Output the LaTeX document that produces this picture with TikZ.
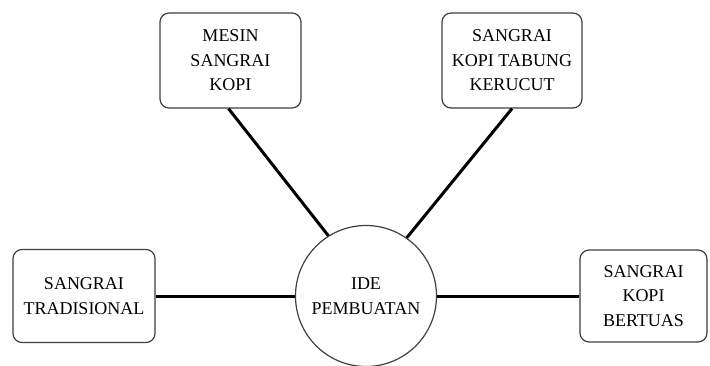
\documentclass[tikz,border=0pt]{standalone}
\usepackage{fontspec}
\setmainfont{Liberation Serif}
\usepackage{tikz}

\begin{document}
\begin{tikzpicture}[x=1pt,y=1pt,
  kotak/.style={draw=black!75,line width=1.2pt,rounded corners=9pt,fill=white,align=center,
    inner sep=0pt,font={\fontsize{18}{24.5}\selectfont}},
  garis/.style={line width=3pt}]
\useasboundingbox (0,0) rectangle (710,365);
% lingkaran di tengah
\node[circle,draw=black!75,line width=1.2pt,minimum size=141pt,inner sep=0pt,align=center,
  font={\fontsize{18}{24.5}\selectfont}] (ide) at (366,69) {IDE\\PEMBUATAN};
% kotak-kotak di sekeliling
\node[kotak,minimum width=141pt,minimum height=95pt] (mesin) at (230.5,304.5) {MESIN\\SANGRAI\\KOPI};
\node[kotak,minimum width=140pt,minimum height=95pt] (tabung) at (512,304.5) {SANGRAI\\KOPI TABUNG\\KERUCUT};
\node[kotak,minimum width=142pt,minimum height=93pt] (tradisi) at (84,69) {SANGRAI\\TRADISIONAL};
\node[kotak,minimum width=127pt,minimum height=92pt] (bertuas) at (643.5,69) {SANGRAI\\KOPI\\BERTUAS};
% garis penghubung
\draw[garis] ([xshift=-2pt]mesin.south) -- (ide.122);
\draw[garis] (tabung.south) -- (ide.55);
\draw[garis] (tradisi.east) -- (ide.west);
\draw[garis] (ide.east) -- (bertuas.west);
\end{tikzpicture}
\end{document}
